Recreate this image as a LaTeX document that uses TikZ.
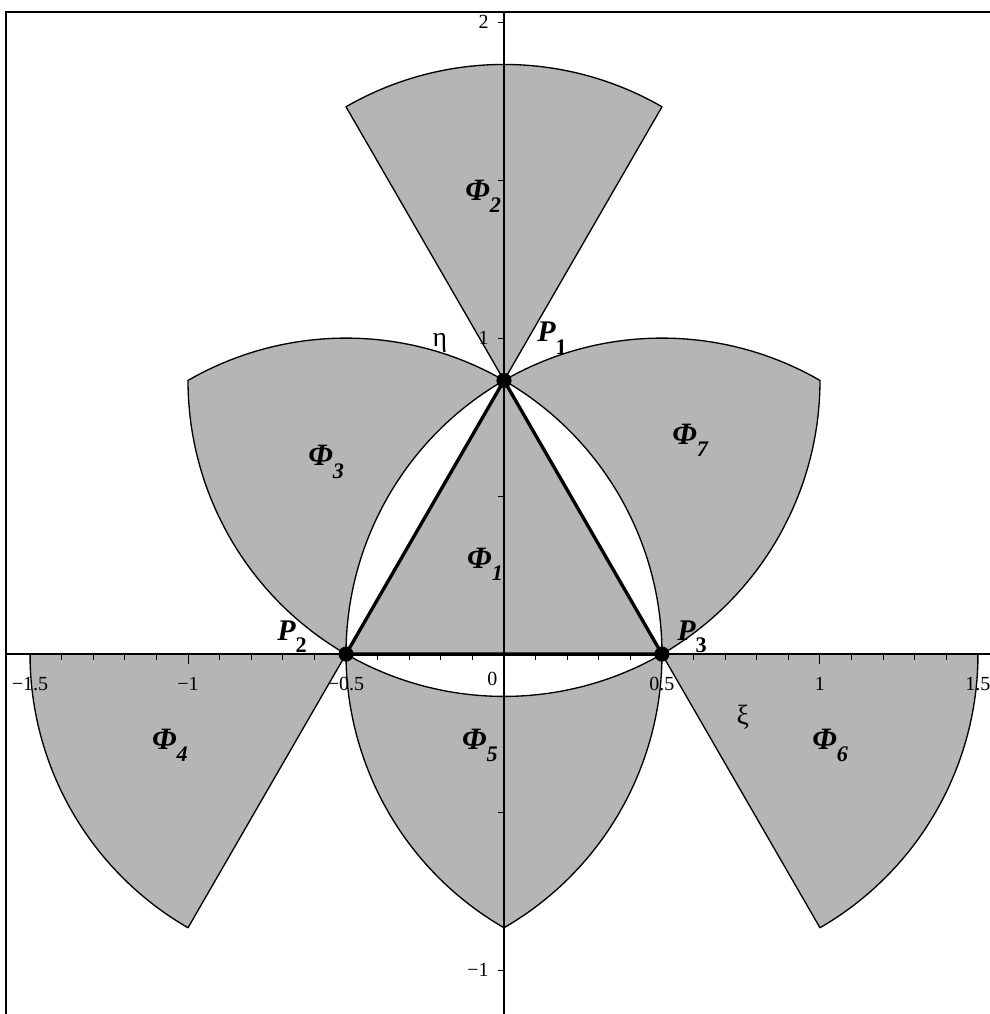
\documentclass[tikz,border=0pt]{standalone}
\usepackage{fontspec}
\setmainfont{Liberation Serif}
\usetikzlibrary{calc}
\definecolor{regiongray}{RGB}{179,181,183}
\newcommand{\phisub}[1]{\raisebox{-5.5pt}{\fontsize{10}{11}\selectfont #1}}
\newcommand{\ptsub}[1]{\raisebox{-5.5pt}{\fontsize{10}{11}\selectfont\upshape #1}}

\begin{document}
\begin{tikzpicture}[x=5cm,y=5cm,
  region/.style={fill=regiongray,draw=black,line width=0.6pt,line join=round},
  edge/.style={line width=1.5pt,line join=round},
  axis/.style={line width=0.9pt},
  frame/.style={line width=1.1pt},
  tick/.style={line width=0.45pt},
  ticklbl/.style={font=\fontsize{9}{10}\selectfont,inner sep=1pt},
  philbl/.style={font=\fontsize{14}{16}\selectfont\bfseries\itshape,inner sep=0pt},
  ptlbl/.style={font=\fontsize{13.5}{16}\selectfont\bfseries\itshape,inner sep=0pt},
  axlbl/.style={font=\fontsize{12.5}{14}\selectfont,inner sep=0pt},
  dot/.style={circle,fill=black,inner sep=0pt,minimum size=6.8pt}]
\useasboundingbox (-1.595,-1.139) rectangle (1.538,2.070);
% --- triangle corners ---
\coordinate (P1) at (0,{sqrt(3)/2});
\coordinate (P2) at (-0.5,0);
\coordinate (P3) at (0.5,0);
% --- outer regions ---
\path[region] (P1) -- ++(120:1) arc[start angle=120,end angle=60,radius=1] -- cycle;
\path[region] (P2) -- ++(180:1) arc[start angle=180,end angle=240,radius=1] -- cycle;
\path[region] (P3) -- ++(300:1) arc[start angle=300,end angle=360,radius=1] -- cycle;
\path[region] (P2) arc[start angle=240,end angle=180,radius=1]
  arc[start angle=120,end angle=60,radius=1]
  arc[start angle=120,end angle=180,radius=1] -- cycle;
\path[region] (P3) arc[start angle=300,end angle=360,radius=1]
  arc[start angle=60,end angle=120,radius=1]
  arc[start angle=60,end angle=0,radius=1] -- cycle;
\path[region] (P2) arc[start angle=180,end angle=240,radius=1]
  arc[start angle=300,end angle=360,radius=1]
  arc[start angle=-60,end angle=-120,radius=1] -- cycle;
% --- inner triangle ---
\fill[regiongray] (P1) -- (P2) -- (P3) -- cycle;
\draw[edge] (P1) -- (P2) -- (P3) -- cycle;
% --- frame and axes ---
\draw[frame] (-1.576,-1.139) -- (-1.576,2.032) -- (1.538,2.032);
\draw[axis] (-1.576,0) -- (1.538,0);
\draw[axis] (0,2.032) -- (0,-1.139);
\foreach \k in {-15,...,15} \draw[tick] (\k/10,0) -- ++(0,-0.02);
\foreach \t in {-1.5,-1,...,1.5} \draw[tick] (\t,0) -- ++(0,-0.032);
\foreach \t in {-1,-0.5,0.5,1,1.5,2} \draw[tick] (0,\t) -- ++(-0.02,0);
\foreach \t/\s [count=\i] in {-1.5/−1.5,-1/−1,-0.5/−0.5,0.5/0.5,1/1,1.5/1.5}
  \node[ticklbl] (xl\i) at (\t,-0.095) {\s};
\node[ticklbl] (xl0) at (-0.037,-0.08) {0};
\foreach \t/\s [count=\i] in {2/2,1/1,-1/−1}
  \node[ticklbl,anchor=east] (yl\i) at (-0.04,\t) {\s};
\node[axlbl] (eta) at (-0.203,0.984) {η};
\node[axlbl] (xi) at (0.756,-0.199) {ξ};
% --- corner points ---
\node[dot] (d1) at (P1) {};
\node[dot] (d2) at (P2) {};
\node[dot] (d3) at (P3) {};
\node[ptlbl] (p1) at (0.152,1.0) {P\ptsub{1}};
\node[ptlbl] (p2) at (-0.671,0.054) {P\ptsub{2}};
\node[ptlbl] (p3) at (0.595,0.054) {P\ptsub{3}};
% --- region names ---
\node[philbl] (f1) at (-0.060,0.285) {Φ\phisub{1}};
\node[philbl] (f2) at (-0.066,1.449) {Φ\phisub{2}};
\node[philbl] (f3) at (-0.563,0.608) {Φ\phisub{3}};
\node[philbl] (f4) at (-1.057,-0.288) {Φ\phisub{4}};
\node[philbl] (f5) at (-0.076,-0.288) {Φ\phisub{5}};
\node[philbl] (f6) at (1.032,-0.288) {Φ\phisub{6}};
\node[philbl] (f7) at (0.589,0.677) {Φ\phisub{7}};
\end{tikzpicture}
\end{document}
